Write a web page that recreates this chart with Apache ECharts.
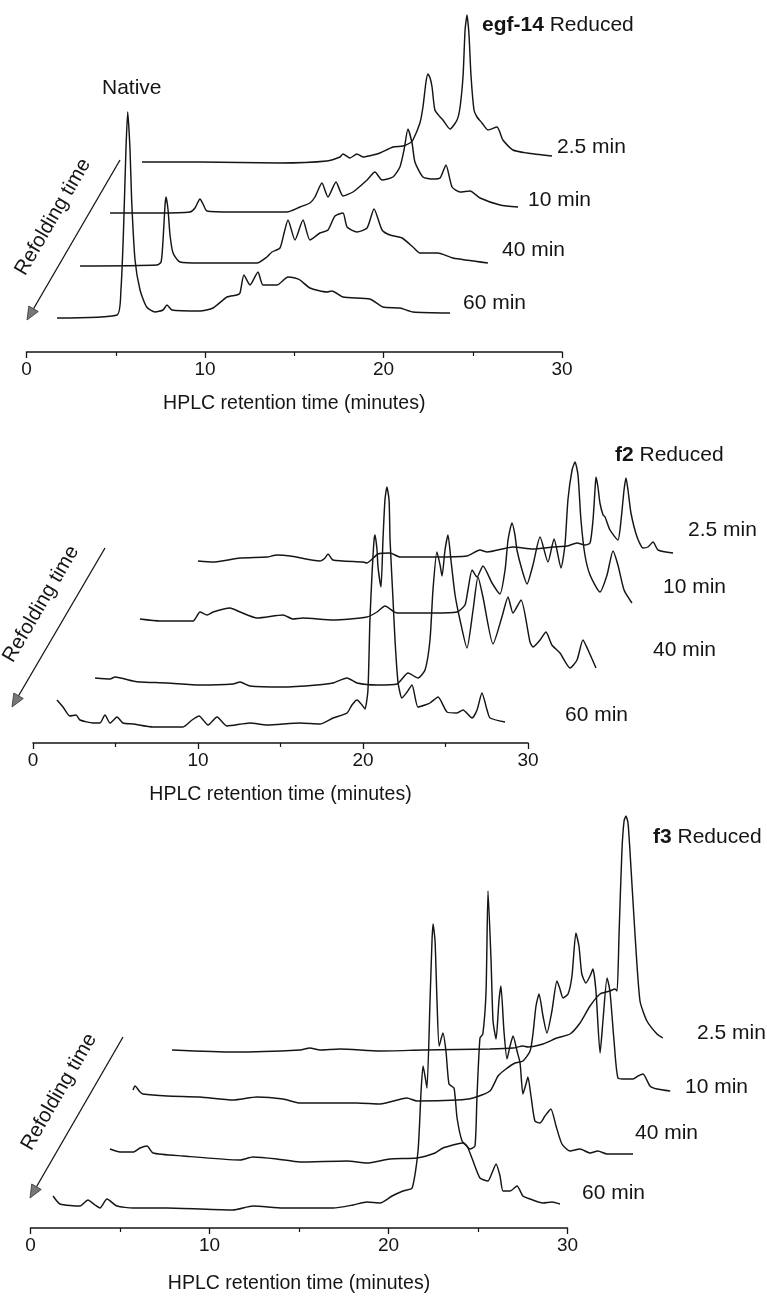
<!DOCTYPE html>
<html>
<head>
<meta charset="utf-8">
<script src="https://cdn.jsdelivr.net/npm/echarts@6/dist/echarts.min.js"></script>
<style>html,body{margin:0;padding:0;background:#fff}#c{width:767px;height:1301px}</style>
</head>
<body>
<div id="c"></div>
<script>
// ---- data: [retention time on plotted axis (min), signal height (a.u.)] ----
const refoldTimes = ['2.5 min', '10 min', '40 min', '60 min'];
const panelTitles = ['egf-14', 'f2', 'f3'];
const axisTicks = [0, 10, 20, 30];

const egf14_25 = [[6.47,190],[9.72,190],[14.20,189],[16.83,191],[17.56,195],[17.73,198],[18.12,194],[18.51,198],[18.85,195],[19.41,197],[19.80,199],[20.53,205],[21.09,206],[21.48,209],[21.65,212],[22.04,229],[22.21,245],[22.38,270],[22.49,278],[22.61,274],[22.72,265],[22.88,242],[23.17,235],[23.33,232],[23.73,223],[24.12,232],[24.29,245],[24.46,277],[24.57,322],[24.68,337],[24.79,317],[24.90,277],[25.07,242],[25.24,235],[25.52,229],[25.85,222],[26.36,225],[26.69,212],[27.25,202],[28.04,199],[29.44,196]];
const egf14_10 = [[4.68,139],[7.31,139],[9.16,140],[9.44,144],[9.72,153],[9.89,148],[10.11,141],[11.57,140],[14.59,140],[15.32,145],[15.88,149],[16.16,155],[16.55,169],[16.89,155],[17.34,170],[17.73,156],[18.29,160],[19.08,172],[19.52,180],[19.92,172],[20.53,175],[20.92,185],[21.15,202],[21.37,223],[21.60,209],[21.76,190],[22.21,175],[22.77,173],[23.17,174],[23.50,187],[23.84,165],[24.29,160],[24.85,161],[25.41,154],[26.53,147],[27.54,145]];
const egf14_40 = [[3.00,86],[7.31,87],[7.54,90],[7.65,112],[7.76,147],[7.82,155],[7.93,142],[8.04,117],[8.21,99],[8.60,90],[9.72,89],[12.91,89],[13.47,95],[13.75,100],[14.20,104],[14.43,119],[14.65,132],[15.04,112],[15.49,132],[15.88,112],[16.44,119],[16.89,122],[17.28,136],[17.73,139],[17.96,125],[18.51,120],[19.08,124],[19.47,143],[19.92,122],[20.36,117],[21.04,114],[21.65,105],[22.04,99],[23.05,99],[23.89,94],[25.85,89]];
const egf14_60 = [[1.71,34],[5.07,37],[5.29,62],[5.43,119],[5.57,202],[5.67,240],[5.80,202],[5.89,152],[6.08,92],[6.36,62],[6.73,45],[7.20,40],[7.65,42],[7.87,47],[8.15,42],[9.72,41],[10.45,44],[11.23,55],[11.79,57],[11.96,59],[12.18,77],[12.52,67],[12.97,80],[13.25,67],[14.03,67],[14.65,75],[15.04,74],[15.32,72],[15.88,64],[16.83,60],[17.11,61],[17.73,55],[19.24,53],[19.97,45],[20.92,44],[21.65,40],[23.73,39]];

const f2_25 = [[10.00,182],[10.91,181],[12.55,185],[14.18,186],[14.79,188],[15.58,187],[17.39,182],[17.70,185],[17.88,189],[18.18,183],[20.00,181],[20.24,180],[20.91,189],[21.64,190],[22.24,186],[24.24,186],[26.30,187],[27.09,193],[27.52,191],[29.09,196],[30.30,194],[31.52,196],[32.36,197],[32.97,200],[33.45,198],[33.76,200],[33.94,223],[34.06,253],[34.12,266],[34.24,256],[34.36,240],[34.55,228],[34.67,226],[34.97,213],[35.45,203],[35.64,223],[35.82,253],[35.94,265],[36.06,253],[36.24,230],[36.61,206],[36.97,195],[37.27,196],[37.58,201],[37.88,193],[38.79,190]];
const f2_10 = [[6.48,124],[7.70,122],[9.70,122],[10.12,131],[10.55,128],[10.91,131],[11.94,135],[12.55,131],[13.58,125],[15.15,128],[15.76,124],[16.36,125],[18.18,123],[20.24,126],[20.85,131],[21.33,137],[22.06,130],[24.24,130],[25.70,131],[26.18,138],[26.36,153],[26.61,173],[26.91,166],[27.27,177],[27.82,160],[28.30,149],[28.61,173],[28.79,203],[29.03,220],[29.21,208],[29.33,193],[29.64,173],[29.94,159],[30.30,178],[30.73,206],[31.21,181],[31.58,204],[32.00,175],[32.24,198],[32.42,243],[32.67,273],[32.85,281],[33.03,268],[33.21,223],[33.45,188],[33.76,168],[34.36,151],[34.79,168],[35.15,192],[35.45,178],[35.82,153],[36.30,140]];
const f2_40 = [[3.76,65],[4.67,64],[4.97,66],[6.06,62],[6.48,61],[8.12,60],[10.12,58],[12.12,59],[12.55,61],[13.15,57],[15.15,56],[17.21,58],[18.18,60],[19.03,65],[19.64,60],[20.85,58],[22.06,59],[22.73,70],[23.33,65],[23.76,73],[24.06,103],[24.24,153],[24.48,191],[24.67,178],[24.79,167],[24.97,193],[25.15,208],[25.33,183],[25.58,148],[25.88,123],[26.30,95],[26.67,133],[26.97,166],[27.27,146],[27.88,99],[28.42,126],[28.79,146],[29.09,130],[29.58,143],[30.12,101],[30.30,96],[30.73,103],[31.09,111],[31.45,98],[31.94,90],[32.55,75],[32.97,83],[33.33,103],[33.64,93],[34.12,75]];
const f2_60 = [[1.45,43],[1.82,36],[2.24,27],[2.61,28],[2.85,23],[3.64,20],[4.06,20],[4.36,28],[4.67,20],[5.09,26],[5.45,20],[6.06,19],[7.27,16],[9.09,16],[9.64,23],[10.06,27],[10.61,18],[11.15,26],[11.76,17],[13.15,20],[14.18,18],[16.18,20],[17.39,19],[18.18,25],[19.03,30],[19.33,38],[19.64,43],[19.94,38],[20.12,34],[20.30,53],[20.42,123],[20.55,170],[20.67,203],[20.73,208],[20.85,193],[20.91,176],[21.09,156],[21.21,203],[21.33,243],[21.45,256],[21.58,243],[21.64,203],[21.82,143],[21.94,103],[22.12,61],[22.36,45],[22.67,51],[22.97,58],[23.33,36],[23.76,38],[24.06,40],[24.55,46],[25.09,31],[25.70,30],[26.06,33],[26.61,25],[26.91,33],[27.21,50],[27.52,33],[27.70,25],[28.61,21]];

const f3_25 = [[7.91,178],[11.31,176],[15.06,178],[15.61,180],[16.17,178],[17.29,179],[19.53,177],[21.93,178],[25.67,179],[26.96,180],[27.51,182],[27.79,181],[28.63,184],[29.41,190],[30.14,194],[30.70,205],[31.26,222],[31.82,234],[32.37,237],[32.65,239],[32.77,237],[32.88,294],[33.04,377],[33.16,407],[33.27,412],[33.38,405],[33.49,377],[33.77,294],[34.05,227],[34.44,207],[35.00,194],[35.33,190]];
const f3_10 = [[5.73,138],[5.84,142],[6.12,136],[6.28,134],[7.63,132],[9.47,131],[11.31,128],[12.65,131],[14.11,129],[15.06,125],[16.90,125],[18.24,125],[19.53,124],[21.03,130],[21.59,127],[23.83,128],[24.72,130],[25.67,137],[26.12,152],[26.56,159],[27.07,165],[27.51,167],[27.91,177],[28.07,194],[28.24,222],[28.41,234],[28.63,212],[28.85,195],[29.13,217],[29.41,247],[29.58,239],[29.75,230],[30.03,234],[30.25,252],[30.47,295],[30.64,282],[30.80,254],[31.03,245],[31.26,252],[31.42,259],[31.59,237],[31.82,175],[31.98,207],[32.21,250],[32.37,237],[32.60,187],[32.82,150],[33.21,149],[33.66,149],[33.94,152],[34.22,154],[34.61,142],[35.00,139],[35.74,137]];
const f3_40 = [[4.44,79],[5.00,76],[5.73,76],[6.12,80],[6.51,82],[6.84,75],[8.52,72],[11.70,68],[12.43,71],[13.77,69],[15.06,66],[17.68,67],[18.80,65],[20.08,69],[21.59,70],[22.60,75],[23.04,80],[23.83,84],[24.16,85],[24.55,79],[24.83,82],[24.94,130],[25.11,190],[25.27,194],[25.45,237],[25.56,337],[25.73,267],[25.84,207],[26.01,189],[26.17,227],[26.28,242],[26.45,197],[26.62,169],[26.79,182],[26.96,192],[27.18,177],[27.35,165],[27.51,134],[27.68,144],[27.79,151],[27.96,132],[28.18,107],[28.46,105],[28.74,112],[29.07,119],[29.36,102],[29.69,84],[30.14,77],[30.70,79],[31.26,75],[31.70,77],[32.21,74],[33.66,74]];
const f3_60 = [[1.26,32],[1.65,24],[2.77,22],[3.21,28],[3.60,23],[3.88,20],[4.27,29],[4.83,22],[5.73,20],[7.63,20],[11.31,18],[12.43,22],[14.11,20],[16.90,20],[18.02,23],[18.80,26],[19.53,25],[20.20,32],[20.81,37],[21.32,40],[21.65,77],[21.82,137],[21.93,162],[22.04,152],[22.15,140],[22.32,227],[22.43,287],[22.49,304],[22.60,287],[22.71,227],[22.83,182],[23.04,195],[23.21,177],[23.38,144],[23.66,140],[23.83,110],[24.11,87],[24.39,82],[24.66,70],[25.11,50],[25.56,47],[25.78,55],[26.01,64],[26.23,52],[26.40,37],[26.79,37],[27.18,42],[27.51,32],[27.91,29],[28.63,25],[29.13,26],[29.58,24]];

const panelTraces = [
  [egf14_25, egf14_10, egf14_40, egf14_60],
  [f2_25, f2_10, f2_40, f2_60],
  [f3_25, f3_10, f3_40, f3_60]
];

// ---- layout / style ----
const FONT = '"Liberation Sans", Arial, Helvetica, sans-serif';
const INK = '#151515';
const FS = 19;      // axis text
const FA = 21;      // annotation text
const panels = [
  {left: 26.5, width: 535.5, axisY: 352,  H: 350, nameGap: 42},
  {left: 33,   width: 495,   axisY: 743,  H: 350, nameGap: 42},
  {left: 30.5, width: 537,   axisY: 1228, H: 440, nameGap: 46}
];
const XMAX = 30, XDATA = 40;

const grids = [], xAxes = [], yAxes = [];
panels.forEach(p => {
  grids.push({left: p.left, top: p.axisY - p.H, width: p.width, height: p.H,
    containLabel: false, outerBoundsMode: 'none'});
});
panels.forEach(p => {
  grids.push({left: p.left, top: p.axisY - p.H, width: p.width * XDATA / XMAX, height: p.H,
    containLabel: false, outerBoundsMode: 'none'});
});
panels.forEach((p, i) => {
  xAxes.push({
    gridIndex: i, type: 'value', min: axisTicks[0], max: axisTicks[axisTicks.length - 1], interval: 10,
    axisLine: {lineStyle: {color: INK, width: 1.5}},
    axisTick: {length: 6, lineStyle: {color: INK, width: 1.3}},
    minorTick: {show: true, splitNumber: 2, length: 4, lineStyle: {color: INK, width: 1.2}},
    splitLine: {show: false}, minorSplitLine: {show: false},
    axisLabel: {fontSize: FS, color: INK, fontFamily: FONT, margin: 8},
    name: 'HPLC retention time (minutes)', nameLocation: 'middle', nameGap: p.nameGap,
    nameTextStyle: {fontSize: FS + 0.5, color: INK, fontFamily: FONT}
  });
  yAxes.push({gridIndex: i, type: 'value', min: 0, max: p.H, show: false});
});
panels.forEach((p, i) => {
  xAxes.push({gridIndex: 3 + i, type: 'value', min: 0, max: XDATA, show: false});
  yAxes.push({gridIndex: 3 + i, type: 'value', min: 0, max: p.H, show: false});
});

const series = [];
panelTraces.forEach((traces, p) => {
  traces.forEach((d, k) => {
    series.push({
      type: 'line', name: panelTitles[p] + ' ' + refoldTimes[k],
      xAxisIndex: 3 + p, yAxisIndex: 3 + p, data: d, clip: false,
      showSymbol: false, smooth: 0.2, silent: true,
      lineStyle: {color: INK, width: 1.45}
    });
  });
});

function txt(s, x, y) {
  return {type: 'text', x: x, y: y, silent: true,
    style: {text: s, fontSize: FA, fontFamily: FONT, fill: INK, align: 'left', verticalAlign: 'middle'}};
}
function richTitle(name, x, y) {
  return {type: 'text', x: x, y: y, silent: true,
    style: {text: '{b|' + name + '} Reduced', fontSize: FA, fontFamily: FONT, fill: INK,
      align: 'left', verticalAlign: 'middle',
      rich: {b: {fontWeight: 'bold', fontSize: FA, fontFamily: FONT, fill: INK}}}};
}
function arrow(x1, y1, x2, y2, tx, ty) {
  const dx = x2 - x1, dy = y2 - y1, L = Math.hypot(dx, dy), ux = dx / L, uy = dy / L;
  const hl = 13, hw = 5.5, bx = x2 - ux * hl, by = y2 - uy * hl;
  const ang = Math.atan2(dy, -dx);
  return [
    {type: 'line', silent: true, shape: {x1: x1, y1: y1, x2: bx, y2: by}, style: {stroke: INK, lineWidth: 1.3}},
    {type: 'polygon', silent: true, shape: {points: [[x2, y2], [bx - uy * hw, by + ux * hw], [bx + uy * hw, by - ux * hw]]},
      style: {fill: '#777', stroke: '#333', lineWidth: 0.8}},
    {type: 'text', silent: true, x: tx, y: ty, rotation: ang,
      style: {text: 'Refolding time', fontSize: FA - 0.5, fontFamily: FONT, fill: INK, align: 'center', verticalAlign: 'middle'}}
  ];
}

const labelPos = [
  [[557,147],[528,200],[502,250],[463,303]],
  [[688,530],[663,587],[653,650],[565,715]],
  [[697,1033],[685,1087],[635,1133],[582,1193]]
];
const graphics = [];
graphics.push(richTitle(panelTitles[0], 482, 25));
graphics.push(richTitle(panelTitles[1], 615, 455));
graphics.push(richTitle(panelTitles[2], 653, 837));
graphics.push(txt('Native', 102, 88));
labelPos.forEach(ps => ps.forEach((pp, k) => graphics.push(txt(refoldTimes[k], pp[0], pp[1]))));
graphics.push(...arrow(120, 160, 27, 320, 53, 217));
graphics.push(...arrow(105, 548, 12, 707, 41, 604));
graphics.push(...arrow(123, 1037, 30, 1198, 59, 1092));

const chart = echarts.init(document.getElementById('c'), null, {renderer: 'canvas'});
chart.setOption({
  backgroundColor: '#ffffff',
  animation: false,
  grid: grids,
  xAxis: xAxes,
  yAxis: yAxes,
  series: series,
  graphic: {elements: graphics}
});
</script>
</body>
</html>
